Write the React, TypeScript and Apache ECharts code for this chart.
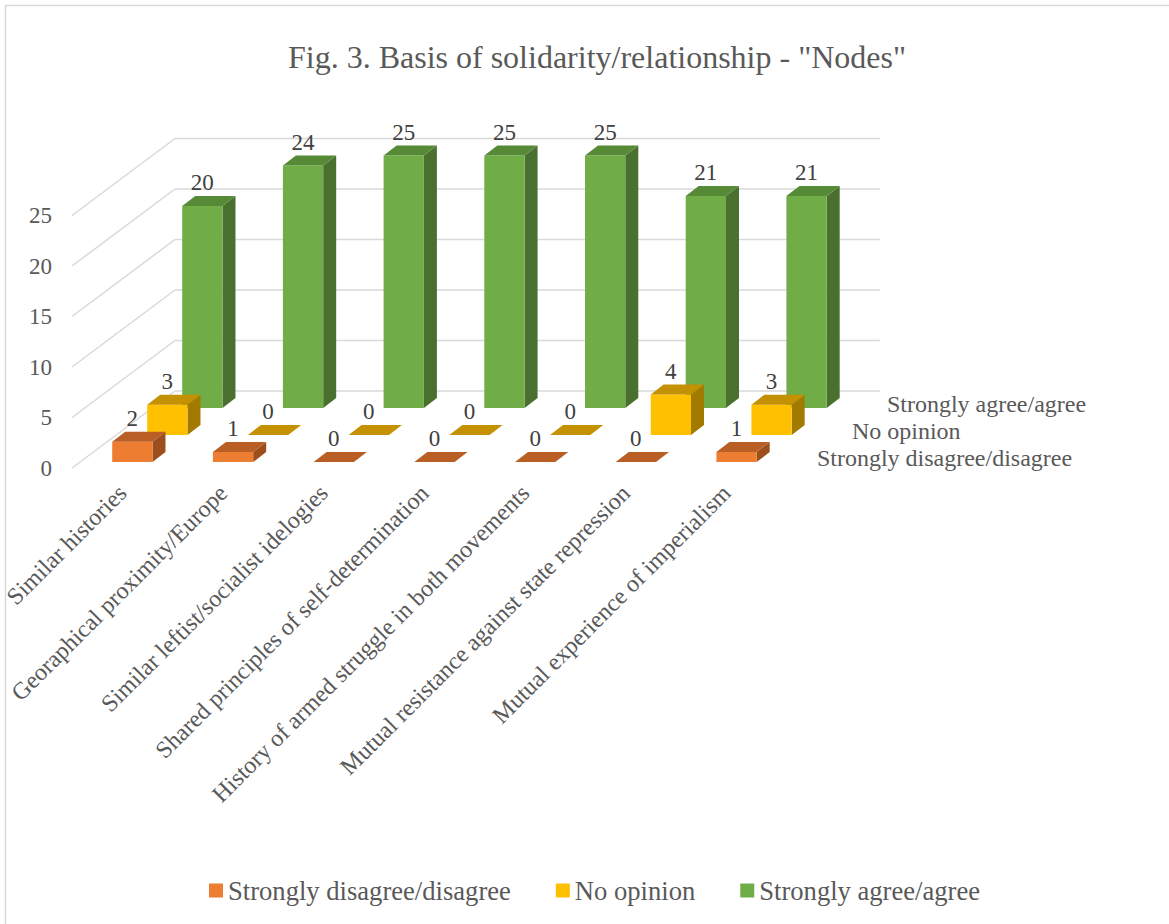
import React, { useEffect, useRef } from "react";
import * as echarts from "echarts";

const title = 'Fig. 3. Basis of solidarity/relationship - "Nodes"';
const categories = [
  "Similar histories",
  "Georaphical proximity/Europe",
  "Similar leftist/socialist idelogies",
  "Shared principles of self-determination",
  "History of armed struggle in both movements",
  "Mutual resistance against state repression",
  "Mutual experience of imperialism",
];
const seriesNames = ["Strongly disagree/disagree", "No opinion", "Strongly agree/agree"];
const disagree = [2, 1, 0, 0, 0, 0, 1];
const noOpinion = [3, 0, 0, 0, 0, 4, 3];
const agree = [20, 24, 25, 25, 25, 21, 21];
const valueTicks = [0, 5, 10, 15, 20, 25];

const FONT = "'Liberation Serif', 'Times New Roman', serif";
const COLORS = [
  { front: "#ED7D31", top: "#B95E24", side: "#9C4E1C" },
  { front: "#FFC000", top: "#C49102", side: "#A27A00" },
  { front: "#70AD47", top: "#578A37", side: "#4A7030" },
];
// depth geometry (pixels)
const ROW_DX = 35;
const ROW_DY = -27;
const FRONT_DX = 10;
const FRONT_DY = -6;
const BOX_DX = 13;
const BOX_DY = -10;
const WALL_DX = 103;
const WALL_DY = -77;

function barRender(row: number) {
  return (params: any, api: any) => {
    const i = api.value(0);
    const v = api.value(1);
    const base = api.coord([i, 0]);
    const top = api.coord([i, v]);
    const band = api.size([1, 0])[0];
    const w = band * 0.4;
    const ox = FRONT_DX + ROW_DX * row;
    const oy = FRONT_DY + ROW_DY * row;
    const x0 = base[0] - w / 2 + ox;
    const x1 = x0 + w;
    const yb = base[1] + oy;
    const yt = top[1] + oy;
    const c = COLORS[row];
    return {
      type: "group",
      children: [
        {
          type: "polygon",
          shape: { points: [[x1, yt], [x1 + BOX_DX, yt + BOX_DY], [x1 + BOX_DX, yb + BOX_DY], [x1, yb]] },
          style: { fill: c.side },
        },
        { type: "rect", shape: { x: x0, y: yt, width: w, height: yb - yt }, style: { fill: c.front } },
        {
          type: "polygon",
          shape: { points: [[x0, yt], [x1, yt], [x1 + BOX_DX, yt + BOX_DY], [x0 + BOX_DX, yt + BOX_DY]] },
          style: { fill: c.top },
        },
        {
          type: "text",
          style: {
            text: String(v),
            x: (x0 + x1) / 2,
            y: yt - 12,
            align: "center",
            verticalAlign: "bottom",
            fontFamily: FONT,
            fontSize: 23,
            fill: "#404040",
          },
        },
      ],
    };
  };
}

function wallRender(params: any, api: any) {
  const v = api.value(1);
  const band = api.size([1, 0])[0];
  const p0 = api.coord([0, v]);
  const p1 = api.coord([categories.length - 1, v]);
  const left = p0[0] - band / 2;
  const right = p1[0] + band / 2;
  const y = p0[1];
  const style = { stroke: "#D9D9D9", lineWidth: 1.5, fill: null };
  return {
    type: "group",
    children: [
      { type: "line", shape: { x1: left, y1: y, x2: left + WALL_DX, y2: y + WALL_DY }, style },
      { type: "line", shape: { x1: left + WALL_DX, y1: y + WALL_DY, x2: right + WALL_DX, y2: y + WALL_DY }, style },
    ],
  };
}

function depthLabelRender(params: any, api: any) {
  const row = api.value(2);
  const band = api.size([1, 0])[0];
  const p = api.coord([categories.length - 1, 0]);
  const x = p[0] + band / 2 + FRONT_DX + ROW_DX * row + 30;
  const y = p[1] + FRONT_DY + ROW_DY * row - 4;
  return {
    type: "text",
    style: {
      text: seriesNames[row],
      x,
      y,
      align: "left",
      verticalAlign: "middle",
      fontFamily: FONT,
      fontSize: 24,
      fill: "#595959",
    },
  };
}

export default function App() {
  const ref = useRef<HTMLDivElement>(null);
  useEffect(() => {
    if (!ref.current) return;
    const chart = echarts.init(ref.current, null, { renderer: "svg" });
    const rows = [disagree, noOpinion, agree];
    chart.setOption({
      animation: false,
      backgroundColor: "#FFFFFF",
      title: {
        text: title,
        left: 592,
        top: 36,
        textAlign: "center",
        textStyle: { fontFamily: FONT, fontSize: 32, fontWeight: "normal", color: "#595959" },
      },
      legend: {
        data: seriesNames,
        left: 204,
        top: 872,
        itemWidth: 14,
        itemHeight: 14,
        itemGap: 45,
        icon: "rect",
        textStyle: { fontFamily: FONT, fontSize: 26.6, color: "#595959" },
      },
      graphic: [
        {
          type: "rect",
          shape: { x: 5.5, y: 5.5, width: 1300, height: 1000 },
          style: { fill: null, stroke: "#D9D9D9", lineWidth: 1.5 },
          silent: true,
        },
      ],
      grid: { left: 72, top: 215.5, width: 704.9, height: 252.5, containLabel: false },
      xAxis: {
        type: "category",
        data: categories,
        axisLine: { show: false },
        axisTick: { show: false },
        axisLabel: {
          interval: 0,
          rotate: 45,
          margin: 21,
          fontFamily: FONT,
          fontSize: 24,
          color: "#595959",
        },
      },
      yAxis: {
        type: "value",
        min: 0,
        max: 25,
        interval: 5,
        axisLine: { show: false },
        axisTick: { show: false },
        splitLine: { show: false },
        axisLabel: { margin: 20, fontFamily: FONT, fontSize: 23, color: "#595959" },
      },
      series: [
        {
          type: "custom",
          name: "walls",
          z: 1,
          silent: true,
          renderItem: wallRender,
          data: valueTicks.map((v) => [0, v]),
          encode: { x: 0, y: 1 },
        },
        {
          type: "custom",
          name: "depthLabels",
          z: 1,
          silent: true,
          renderItem: depthLabelRender,
          data: [0, 1, 2].map((r) => [categories.length - 1, 0, r]),
          encode: { x: 0, y: 1 },
        },
        ...[2, 1, 0].map((r) => ({
          type: "custom",
          name: seriesNames[r],
          z: 4 - r + 1,
          itemStyle: { color: COLORS[r].front },
          renderItem: barRender(r),
          data: rows[r].map((v, i) => [i, v]),
          encode: { x: 0, y: 1 },
        })),
      ],
    });
    return () => chart.dispose();
  }, []);
  return (
    <div
      ref={ref}
      style={{ position: "fixed", left: 0, top: 0, width: 1169, height: 924, background: "#fff" }}
    />
  );
}
